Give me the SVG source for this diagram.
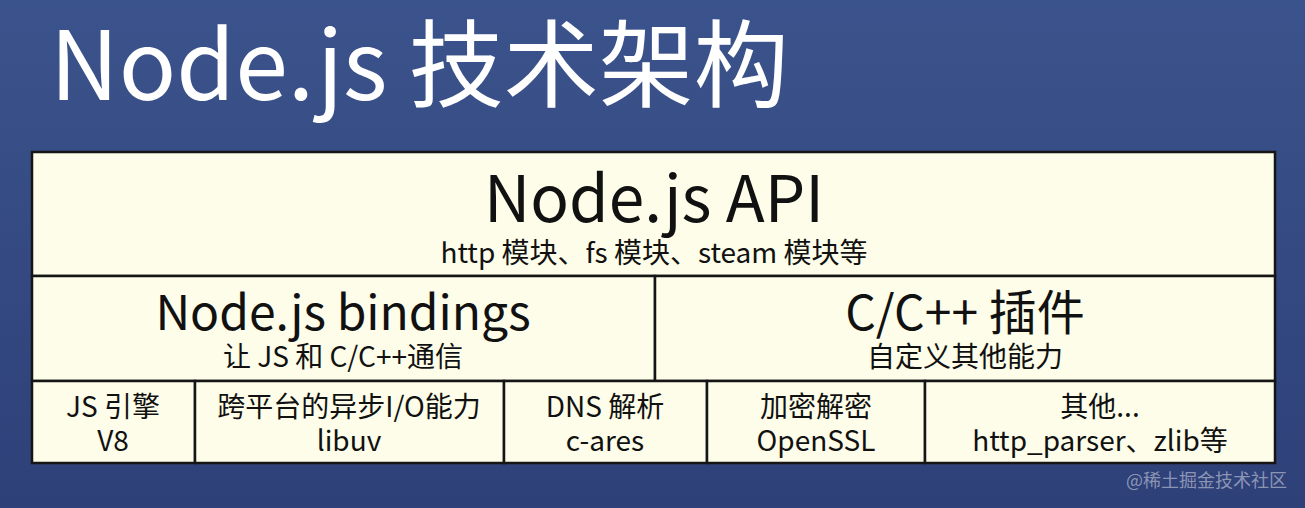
<svg xmlns="http://www.w3.org/2000/svg" width="1305" height="508" viewBox="0 0 1305 508">
<defs>
<linearGradient id="bg" x1="0" y1="0" x2="0" y2="1">
<stop offset="0" stop-color="#3b538c"/>
<stop offset="1" stop-color="#2e4078"/>
</linearGradient>
<style>
text{font-family:"Noto Sans CJK SC","Noto Sans",sans-serif;text-anchor:middle;fill:#111}
.cell{fill:#fdfde9;stroke:#151515;stroke-width:2.5}
.big{font-size:64px}
.mid{font-size:48px}
.sub{font-size:28px}
.sm{font-size:28px}
</style>
</defs>
<rect x="0" y="0" width="1305" height="508" fill="url(#bg)"/>
<text x="50" y="100" style="font-size:95px;text-anchor:start;fill:#ffffff">Node.js 技术架构</text>
<g id="api">
<rect class="cell" x="32" y="152" width="1243" height="124"/>
<text class="big" x="654" y="222">Node.js API</text>
<text class="sub" x="654" y="263">http 模块、fs 模块、steam 模块等</text>
</g>
<g id="bindings">
<rect class="cell" x="32" y="276" width="623" height="105"/>
<text class="mid" x="343" y="330">Node.js bindings</text>
<text class="sub" x="343" y="367">让 JS 和 C/C++通信</text>
</g>
<g id="addons">
<rect class="cell" x="655" y="276" width="620" height="105"/>
<text class="mid" x="965" y="330">C/C++ 插件</text>
<text class="sub" x="965" y="367">自定义其他能力</text>
</g>
<g id="v8">
<rect class="cell" x="32" y="381" width="163" height="82"/>
<text class="sm" x="113" y="417">JS 引擎</text>
<text class="sm" x="113" y="451">V8</text>
</g>
<g id="libuv">
<rect class="cell" x="195" y="381" width="309" height="82"/>
<text class="sm" x="349" y="417">跨平台的异步I/O能力</text>
<text class="sm" x="349" y="451">libuv</text>
</g>
<g id="cares">
<rect class="cell" x="504" y="381" width="203" height="82"/>
<text class="sm" x="605" y="417">DNS 解析</text>
<text class="sm" x="605" y="451">c-ares</text>
</g>
<g id="openssl">
<rect class="cell" x="707" y="381" width="218" height="82"/>
<text class="sm" x="816" y="417">加密解密</text>
<text class="sm" x="816" y="451">OpenSSL</text>
</g>
<g id="others">
<rect class="cell" x="925" y="381" width="350" height="82"/>
<text class="sm" x="1100" y="417">其他...</text>
<text class="sm" x="1100" y="451">http_parser、zlib等</text>
</g>
<g id="connectors"></g>
<text x="1287" y="487" style="font-size:18px;text-anchor:end;fill:#ffffff;fill-opacity:0.45">@稀土掘金技术社区</text>
</svg>
